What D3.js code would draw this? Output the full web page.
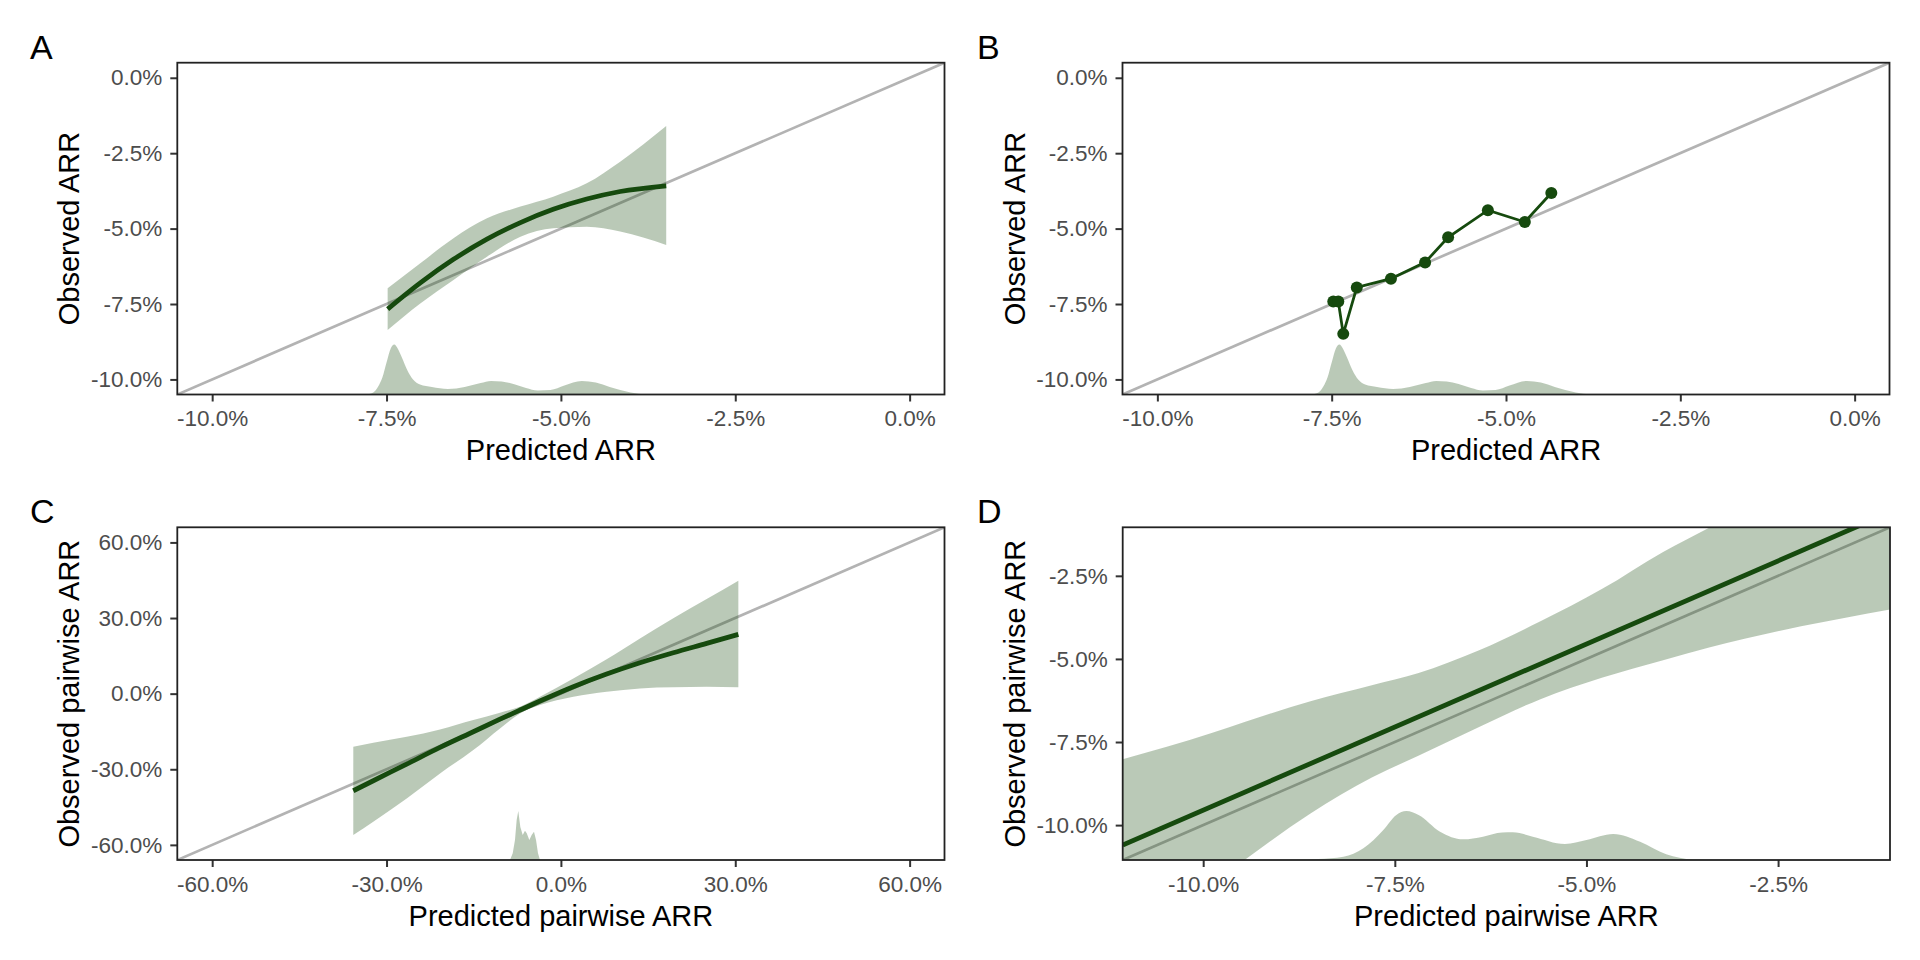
<!DOCTYPE html>
<html>
<head>
<meta charset="utf-8">
<script src="https://cdn.jsdelivr.net/npm/d3@7"></script>
<style>
  html, body { margin: 0; padding: 0; background: #fff; }
  svg { display: block; font-family: "Liberation Sans", Arial, Helvetica, sans-serif; }
</style>
</head>
<body>
<svg id="chart" width="1920" height="960"></svg>
<script>
// ---------------- DATA ----------------
const ticksAB = [-10, -7.5, -5, -2.5, 0];
const ticksC = [-60, -30, 0, 30, 60];
const ticksD = [-10, -7.5, -5, -2.5];

// Panel A: smoothed calibration curve with confidence band
const smoothA_x     = [-7.484, -7.016, -6.54, -6.06, -5.58, -5.11, -4.63, -4.15, -3.49];
const smoothA_fit   = [-7.67, -6.80, -6.02, -5.35, -4.80, -4.36, -4.02, -3.77, -3.58];
const smoothA_upper = [-6.98, -6.15, -5.32, -4.66, -4.27, -3.94, -3.50, -2.78, -1.60];
const smoothA_lower = [-8.36, -7.48, -6.70, -5.93, -5.27, -4.99, -4.94, -5.10, -5.54];

// Panel B: grouped calibration points
const groupsB_pred = [-7.477, -7.405, -7.334, -7.14, -6.65, -6.16, -5.83, -5.26, -4.73, -4.35];
const groupsB_obs  = [-7.42, -7.42, -8.49, -6.95, -6.66, -6.12, -5.29, -4.39, -4.78, -3.82];

// Density of predicted ARR (panels A and B), heights in y-axis units
const densAB_x = [-7.78, -7.69, -7.62, -7.56, -7.50, -7.44, -7.39, -7.34, -7.28, -7.20, -7.12, -7.02, -6.85, -6.62, -6.38, -6.15, -6.0, -5.85, -5.68, -5.50, -5.33, -5.15, -4.95, -4.70, -4.50, -4.30, -4.15, -4.0, -3.78];
const densAB_h = [0, 0.066, 0.265, 0.564, 1.061, 1.525, 1.658, 1.525, 1.227, 0.796, 0.497, 0.332, 0.249, 0.182, 0.249, 0.381, 0.448, 0.431, 0.348, 0.216, 0.133, 0.149, 0.298, 0.448, 0.398, 0.249, 0.149, 0.066, 0];

// Panel C: pairwise smoothed calibration
const smoothC_x     = [-35.72, -32.28, -26.53, -20.80, -15.07, -10.48, -7.04, -3.60, 2.14, 7.87, 13.61, 19.34, 25.08, 30.53];
const smoothC_fit   = [-38.52, -34.55, -27.94, -21.32, -15.11, -10.13, -6.51, -2.94, 2.75, 7.78, 12.27, 16.24, 19.95, 23.52];
const smoothC_upper = [-21.07, -19.47, -17.09, -14.18, -10.48, -7.57, -5.19, -1.22, 6.06, 13.6, 21.93, 29.87, 37.54, 44.81];
const smoothC_lower = [-56.11, -50.82, -41.56, -31.64, -22.38, -13.78, -7.83, -4.52, -1.22, 0.77, 2.09, 2.49, 2.75, 2.49];
const densC_x = [-8.76, -8.29, -7.90, -7.61, -7.33, -6.98, -6.57, -6.18, -5.88, -5.43, -5.03, -4.63, -4.28, -3.94, -3.60];
const densC_h = [0, 2.66, 7.94, 15.87, 19.44, 13.1, 9.92, 11.63, 10.6, 7.94, 9.92, 11.23, 7.94, 2.66, 0];

// Panel D: linear pairwise calibration (zoomed)
const linearD_x   = [-11.05, -1.04];
const linearD_fit = [-10.60, -0.59];
const bandD_x     = [-11.05, -9.9, -9.46, -8.6, -7.8, -7.2, -6.4, -5.6, -4.8, -4.0, -3.4, -2.2, -1.04];
const bandD_upper = [-8.02, -7.24, -6.90, -6.27, -5.79, -5.43, -4.74, -3.87, -2.90, -1.78, -1.05, 0.40, 1.80];
const bandD_lower = [-13.6, -11.8, -11.05, -9.65, -8.57, -7.92, -7.05, -6.21, -5.57, -5.04, -4.66, -4.02, -3.51];
const densD_x = [-9.3, -8.78, -8.5, -8.17, -7.91, -7.65, -7.48, -7.35, -7.19, -6.91, -6.61, -6.35, -6.1, -5.96, -5.70, -5.28, -5.0, -4.65, -4.30, -3.96, -3.61, -3.3];
const densD_h = [0, 0.009, 0.03, 0.099, 0.352, 0.904, 1.355, 1.476, 1.355, 0.852, 0.623, 0.702, 0.828, 0.834, 0.702, 0.482, 0.602, 0.783, 0.551, 0.172, 0.015, 0];

const labels = ["A", "B", "C", "D"];
const xTitles = ["Predicted ARR", "Predicted ARR", "Predicted pairwise ARR", "Predicted pairwise ARR"];
const yTitles = ["Observed ARR", "Observed ARR", "Observed pairwise ARR", "Observed pairwise ARR"];

// ---------------- STYLE ----------------
const C_LINE = "#164a0e";
const C_FILL = "#1a4d12";
const FILL_OP = 0.3;
const C_DIAG = "#b3b3b3";

const svg = d3.select("#chart");
svg.append("rect").attr("width", 1920).attr("height", 960).attr("fill", "#fff");

const fmt = v => v.toFixed(1) + "%";

function panel(cfg) {
  const {id, box, domain, ticks, label, labelPos, xTitle, yTitle} = cfg;
  const x = d3.scaleLinear().domain(domain).range([box.left, box.right]);
  const y = d3.scaleLinear().domain(domain).range([box.bottom, box.top]);
  const g = svg.append("g");

  const clipId = "clip" + id;
  svg.append("clipPath").attr("id", clipId).append("rect")
    .attr("x", box.left).attr("y", box.top)
    .attr("width", box.right - box.left).attr("height", box.bottom - box.top);
  const plot = g.append("g").attr("clip-path", `url(#${clipId})`);

  // y = x reference line
  plot.append("line")
    .attr("x1", x(domain[0])).attr("y1", y(domain[0]))
    .attr("x2", x(domain[1])).attr("y2", y(domain[1]))
    .attr("stroke", C_DIAG).attr("stroke-width", 2.7);

  cfg.draw(plot, x, y, domain);

  // axes
  const ax = g.append("g").attr("transform", `translate(0,${box.bottom})`)
    .call(d3.axisBottom(x).tickValues(ticks).tickFormat(fmt).tickSize(7).tickSizeOuter(0).tickPadding(9));
  const ay = g.append("g").attr("transform", `translate(${box.left},0)`)
    .call(d3.axisLeft(y).tickValues(ticks).tickFormat(fmt).tickSize(7).tickSizeOuter(0).tickPadding(8));
  [ax, ay].forEach(a => {
    a.select(".domain").remove();
    a.selectAll(".tick line").attr("stroke", "#333").attr("stroke-width", 2);
    a.selectAll(".tick text").attr("fill", "#4d4d4d").style("font-size", "22.5px")
      .style("font-family", '"Liberation Sans", Arial, sans-serif');
  });

  // panel border
  g.append("rect").attr("x", box.left).attr("y", box.top)
    .attr("width", box.right - box.left).attr("height", box.bottom - box.top)
    .attr("fill", "none").attr("stroke", "#222").attr("stroke-width", 1.8);

  // titles
  g.append("text").attr("x", (box.left + box.right) / 2).attr("y", box.bottom + 65.5)
    .attr("text-anchor", "middle").style("font-size", "29px").attr("fill", "#000").text(xTitle);
  g.append("text")
    .attr("transform", `translate(${box.left - 98},${(box.top + box.bottom) / 2}) rotate(-90)`)
    .attr("text-anchor", "middle").style("font-size", "29px").attr("fill", "#000").text(yTitle);
  g.append("text").attr("x", labelPos[0]).attr("y", labelPos[1])
    .style("font-size", "34px").attr("fill", "#000").text(label);
}

function drawDensity(plot, x, y, domain, xs, hs, curve) {
  const pts = xs.map((v, i) => [v, hs[i]]);
  plot.append("path").datum(pts)
    .attr("d", d3.area().curve(curve)
      .x(d => x(d[0])).y0(y(domain[0])).y1(d => y(domain[0] + d[1])))
    .attr("fill", C_FILL).attr("fill-opacity", FILL_OP);
}

function drawBand(plot, x, y, xs, lo, hi, curve) {
  const pts = xs.map((v, i) => [v, lo[i], hi[i]]);
  plot.append("path").datum(pts)
    .attr("d", d3.area().curve(curve).x(d => x(d[0])).y0(d => y(d[1])).y1(d => y(d[2])))
    .attr("fill", C_FILL).attr("fill-opacity", FILL_OP);
}

function drawLine(plot, x, y, xs, ys, curve, w) {
  const pts = xs.map((v, i) => [v, ys[i]]);
  plot.append("path").datum(pts)
    .attr("d", d3.line().curve(curve).x(d => x(d[0])).y(d => y(d[1])))
    .attr("fill", "none").attr("stroke", C_LINE).attr("stroke-width", w);
}

// A
panel({
  id: "A", label: labels[0], labelPos: [30, 59], xTitle: xTitles[0], yTitle: yTitles[0],
  box: {left: 177.3, right: 944.5, top: 62.7, bottom: 394.5},
  domain: [-10.5, 0.5], ticks: ticksAB,
  draw: (p, x, y, dom) => {
    drawBand(p, x, y, smoothA_x, smoothA_lower, smoothA_upper, d3.curveMonotoneX);
    drawLine(p, x, y, smoothA_x, smoothA_fit, d3.curveMonotoneX, 4.8);
    drawDensity(p, x, y, dom, densAB_x, densAB_h, d3.curveMonotoneX);
  }
});

// B
panel({
  id: "B", label: labels[1], labelPos: [977, 59], xTitle: xTitles[1], yTitle: yTitles[1],
  box: {left: 1122.5, right: 1889.5, top: 62.7, bottom: 394.5},
  domain: [-10.5, 0.5], ticks: ticksAB,
  draw: (p, x, y, dom) => {
    drawLine(p, x, y, groupsB_pred, groupsB_obs, d3.curveLinear, 2.8);
    p.selectAll("circle.pt").data(groupsB_pred).join("circle")
      .attr("cx", d => x(d)).attr("cy", (d, i) => y(groupsB_obs[i]))
      .attr("r", 6).attr("fill", C_LINE);
    drawDensity(p, x, y, dom, densAB_x, densAB_h, d3.curveMonotoneX);
  }
});

// C
panel({
  id: "C", label: labels[2], labelPos: [30, 523], xTitle: xTitles[2], yTitle: yTitles[2],
  box: {left: 177.3, right: 944.5, top: 527.3, bottom: 860},
  domain: [-66, 66], ticks: ticksC,
  draw: (p, x, y, dom) => {
    drawBand(p, x, y, smoothC_x, smoothC_lower, smoothC_upper, d3.curveMonotoneX);
    drawLine(p, x, y, smoothC_x, smoothC_fit, d3.curveMonotoneX, 4.8);
    drawDensity(p, x, y, dom, densC_x, densC_h, d3.curveLinear);
  }
});

// D
panel({
  id: "D", label: labels[3], labelPos: [977, 523], xTitle: xTitles[3], yTitle: yTitles[3],
  box: {left: 1122.7, right: 1890, top: 527.3, bottom: 860},
  domain: [-11.05, -1.04], ticks: ticksD,
  draw: (p, x, y, dom) => {
    drawBand(p, x, y, bandD_x, bandD_lower, bandD_upper, d3.curveMonotoneX);
    drawLine(p, x, y, linearD_x, linearD_fit, d3.curveLinear, 4.8);
    drawDensity(p, x, y, dom, densD_x, densD_h, d3.curveMonotoneX);
  }
});
</script>
</body>
</html>
